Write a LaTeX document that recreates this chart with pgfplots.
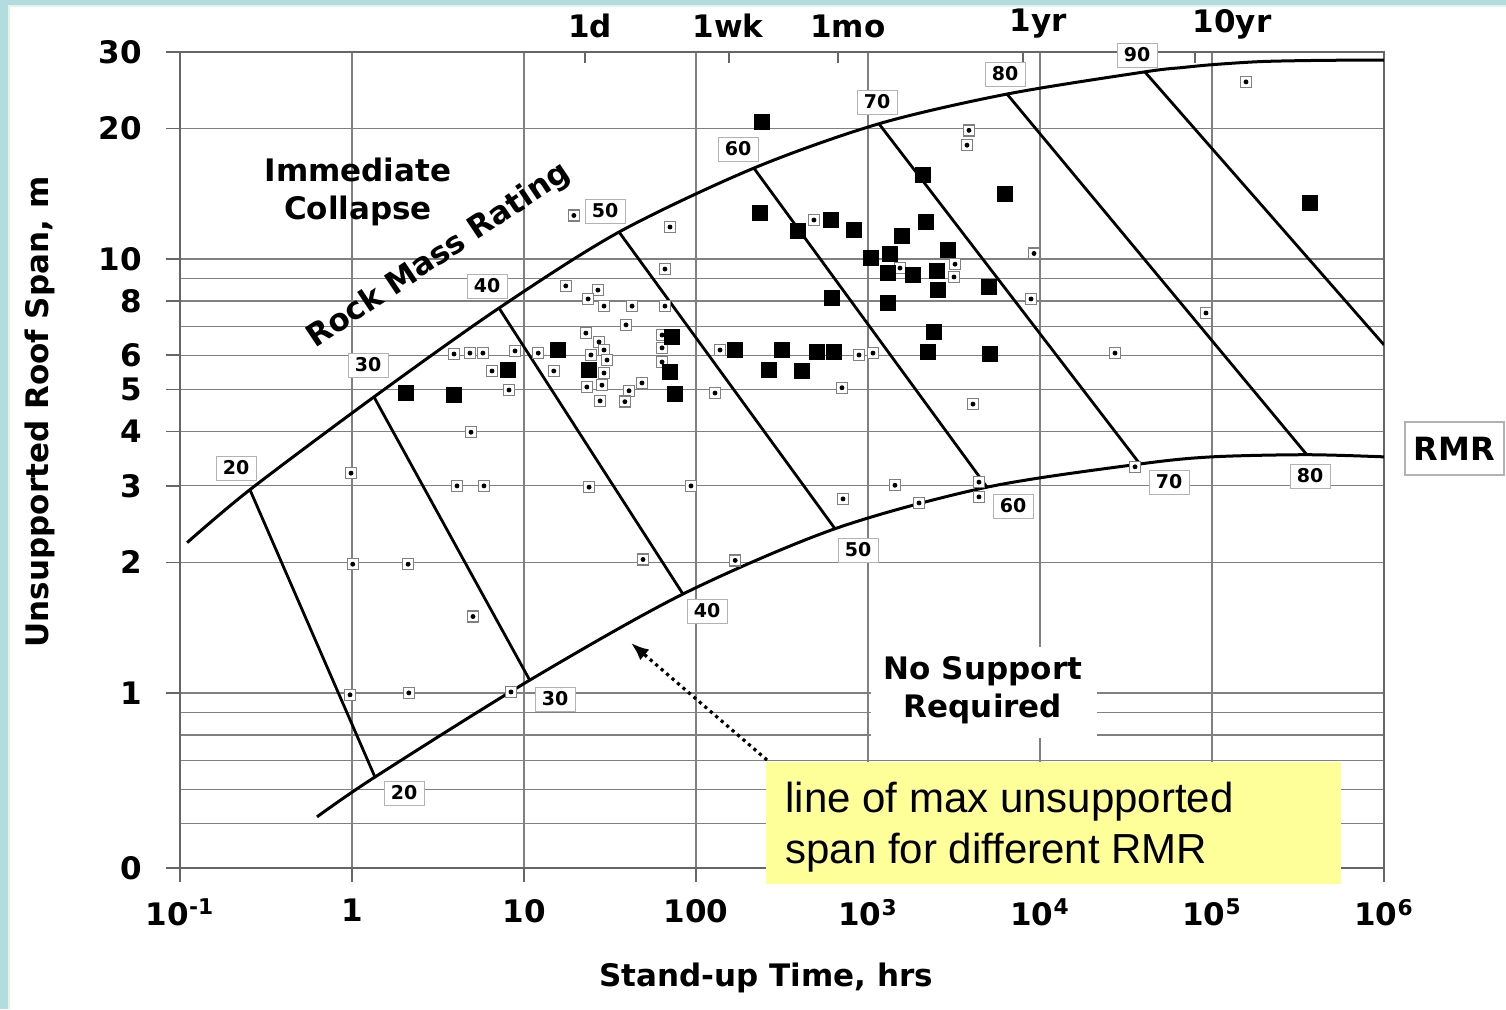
\documentclass[border=0pt]{standalone}
\usepackage{fontspec}
\setmainfont{DejaVu Sans}
\newfontfamily\arialf{Liberation Sans}
\usepackage{pgfplots}
\pgfplotsset{compat=1.18}
\usepackage{pgfplotstable}
\usetikzlibrary{arrows.meta}
\definecolor{bgteal}{RGB}{178,220,222}
\definecolor{bgline}{RGB}{222,245,232}
\definecolor{callout}{RGB}{255,255,153}
\newcommand\bigb{\bfseries\fontsize{15.5}{19}\selectfont}

\pgfplotstableread{
x y
2.06 4.91
3.92 4.86
8.07 5.55
15.8 6.17
23.9 5.55
72.5 6.61
70.6 5.49
75.5 4.89
169 6.17
242 20.7
236 12.8
316 6.17
266 5.55
392 11.6
413 5.52
505 6.11
609 12.3
618 8.13
634 6.11
829 11.7
1041 10.05
1343 10.3
1307 9.28
1307 7.92
1577 11.3
1828 9.19
2089 15.6
2174 12.2
2233 6.11
2420 6.79
2518 9.38
2553 8.49
2918 10.5
5050 8.62
5120 6.04
6260 14.1
371500 13.5
}\filledpts

\pgfplotstableread{
x y
0.987 3.21
3.92 6.04
4.85 6.07
5.77 6.07
6.52 5.52
4.92 3.99
4.08 3.00
5.85 3.00
1.01 1.98
2.12 1.98
5.05 1.50
0.974 0.99
2.14 1.00
8.40 1.005
8.87 6.14
12.1 6.07
14.9 5.52
8.18 4.99
19.5 12.6
70.6 11.85
66.0 9.48
17.5 8.67
26.9 8.48
23.6 8.09
29.2 7.79
42.5 7.79
66.0 7.79
39.2 7.05
22.9 6.75
27.3 6.44
29.2 6.17
24.5 6.01
30.4 5.85
29.2 5.46
23.2 5.07
28.4 5.12
48.5 5.18
40.8 4.97
27.7 4.71
38.6 4.69
63.5 6.68
63.5 6.24
63.5 5.79
138 6.17
129 4.91
706 5.05
887 6.01
1069 6.07
4077 4.63
23.9 2.98
93.5 3.00
1435 3.01
716 2.80
1981 2.74
4418 3.06
4418 2.83
49.2 2.03
169 2.02
485 12.3
3865 19.8
3764 18.3
1535 9.53
3206 9.73
3162 9.09
157700 25.6
9230 10.3
8870 8.09
92300 7.51
27300 6.07
35700 3.32
}\smallpts

\tikzset{rmr/.style={draw=black!30, line width=0.5pt, fill=white, inner sep=0pt,
  minimum width=20pt, minimum height=12pt, font=\bfseries\fontsize{9.5}{11}\selectfont}}

\begin{document}
\begin{tikzpicture}
\begin{scope}[shift={(-90pt,434pt)},x=0.5pt,y=-0.5pt]
\useasboundingbox (0,0) rectangle (1506,1009);
\fill[bgteal] (0,0) rectangle (1506,1009);
\fill[bgline] (8,5) rectangle (1506,1009);
\fill[white] (10,7) rectangle (1506,1009);
\end{scope}

\begin{axis}[at={(0,0)}, anchor=south west, scale only axis,
  width=602pt, height=408pt,
  xmode=log, ymode=log,
  xmin=0.1, xmax=1e6, ymin=0.3949, ymax=30,
  xtick={0.1,1,10,100,1000,10000,100000,1000000},
  xticklabels={10\textsuperscript{-1},1,10,100,10\textsuperscript{3},10\textsuperscript{4},10\textsuperscript{5},10\textsuperscript{6}},
  ytick={0.395,1,2,3,4,5,6,8,10,20,30},
  yticklabels={0,1,2,3,4,5,6,8,10,20,30},
  minor ytick={0.5,0.6,0.7,0.8,0.9,7,9},
  xminorticks=false,
  xmajorgrids, ymajorgrids, yminorgrids,
  major grid style={black!50, line width=0.6pt},
  minor grid style={black!50, line width=0.6pt},
  axis line style={black!60, line width=0.8pt},
  xtick pos=left, ytick pos=left,
  tick align=outside, major tick length=7pt, minor tick length=0pt,
  every tick/.style={black!60, line width=0.8pt},
  /pgf/number format/assume math mode=true,
  ticklabel style={font=\bigb},
  xticklabel style={yshift=-5pt},
  yticklabel style={xshift=-8.5pt},
]
% upper boundary (immediate collapse)
\addplot[black, line width=1.5pt, smooth, tension=0.5] coordinates {
 (0.110,2.22) (0.255,2.94) (1.342,4.81) (7.16,7.71) (35.7,11.54) (217,16.2)
 (1158,20.5) (6430,24.0) (40700,27.0) (66950,27.62) (102800,28.07)
 (195400,28.52) (436500,28.70) (1000000,28.74)};
% lower boundary (no support required)
\addplot[black, line width=1.5pt, smooth, tension=0.5] coordinates {
 (0.626,0.518) (1.36,0.640) (10.8,1.07) (84,1.69) (643,2.39) (4920,2.98)
 (38100,3.37) (100000,3.50) (356000,3.54) (1000000,3.50)};
% RMR lines
\addplot[black, line width=1.4pt] coordinates {(0.255,2.94) (1.36,0.640)};
\addplot[black, line width=1.4pt] coordinates {(1.342,4.81) (10.8,1.07)};
\addplot[black, line width=1.4pt] coordinates {(7.16,7.71) (84,1.69)};
\addplot[black, line width=1.4pt] coordinates {(35.7,11.54) (643,2.39)};
\addplot[black, line width=1.4pt] coordinates {(217,16.2) (4920,2.98)};
\addplot[black, line width=1.4pt] coordinates {(1158,20.5) (38100,3.37)};
\addplot[black, line width=1.4pt] coordinates {(6430,24.0) (356000,3.54)};
\addplot[black, line width=1.4pt] coordinates {(40700,27.0) (1000000,6.34)};
% small case-history markers
\addplot[only marks, mark=square*, mark size=2.75pt,
  mark options={draw=black!50, fill=white, line width=0.7pt}] table {\smallpts};
\addplot[only marks, mark=*, mark size=1pt, mark options={draw=black, fill=black}] table {\smallpts};
% filled markers
\addplot[only marks, mark=square*, mark size=3.75pt,
  mark options={draw=black, fill=black}] table {\filledpts};
\end{axis}

\begin{scope}[shift={(-90pt,434pt)},x=0.5pt,y=-0.5pt]
% top time ticks
\foreach \t in {585,729,838,1023,1195}
  \draw[black!60, line width=0.8pt] (\t,52) -- (\t,63);
\node[font=\bigb] at (590,26) {1d};
\node[font=\bigb] at (728,26) {1wk};
\node[font=\bigb] at (848,26) {1mo};
\node[font=\bigb] at (1038,24) {1yr};
\node[font=\bigb] at (1232,24) {10yr};
% axis labels
\node[font=\bigb, rotate=90] at (40,412) {Unsupported Roof Span, m};
\node[font=\bigb] at (766,978) {Stand-up Time, hrs};
% region texts
\node[font=\bigb, align=center] at (358,192) {Immediate\\Collapse};
\node[font=\bigb, rotate=33.7] at (439,256) {Rock Mass Rating};
\fill[white] (871,647) rectangle (1097,738);
\node[font=\bigb, align=center] at (983,690) {No Support\\Required};
% RMR labels (top)
\node[rmr] at (236,468) {20};
\node[rmr] at (368,365) {30};
\node[rmr] at (487,286) {40};
\node[rmr] at (605,211) {50};
\node[rmr] at (738,149) {60};
\node[rmr] at (877,102) {70};
\node[rmr] at (1005,74) {80};
\node[rmr] at (1137,55) {90};
% RMR labels (bottom)
\node[rmr] at (404,793) {20};
\node[rmr] at (555,699) {30};
\node[rmr] at (707,611) {40};
\node[rmr] at (858,550) {50};
\node[rmr] at (1013,506) {60};
\node[rmr] at (1169,482) {70};
\node[rmr] at (1310,476) {80};
% RMR box
\node[draw=black!30, line width=0.6pt, fill=white, minimum width=49.5pt,
  minimum height=26.5pt, inner sep=0pt, font=\bfseries\fontsize{16}{19}\selectfont]
  at (1454.5,448.5) {RMR};
% callout
\fill[callout] (766,762) rectangle (1341,884);
\node[anchor=west, align=left, inner sep=0pt,
  font=\arialf\fontsize{21}{25.5}\selectfont] at (785,827)
  {line of max unsupported\\span for different RMR};
\draw[line width=1.6pt, dash pattern=on 1.6pt off 2pt,
  -{Latex[length=9pt,width=7pt]}] (767,760) -- (631,643);
\end{scope}
\end{tikzpicture}
\end{document}
